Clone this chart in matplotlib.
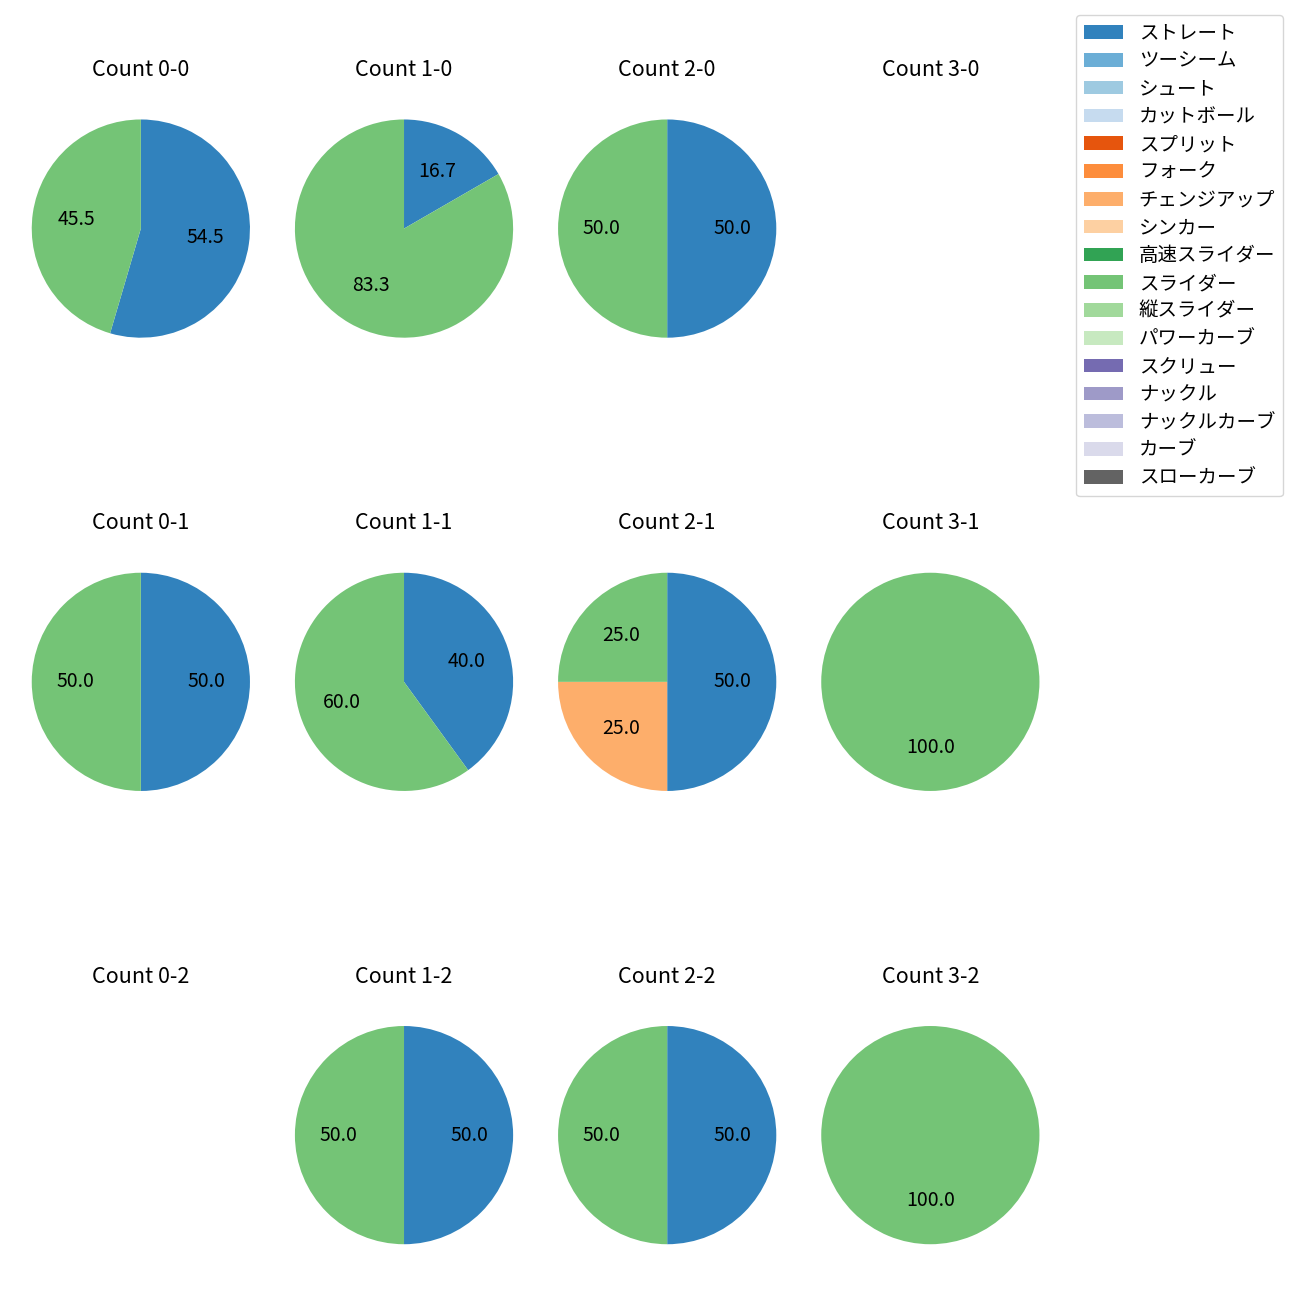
import matplotlib
matplotlib.use("Agg")
import matplotlib.pyplot as plt
from matplotlib.patches import Patch

plt.rcParams['font.family'] = ['Noto Sans CJK JP', 'DejaVu Sans']

pitch_types = ["ストレート", "ツーシーム", "シュート", "カットボール", "スプリット", "フォーク",
               "チェンジアップ", "シンカー", "高速スライダー", "スライダー", "縦スライダー",
               "パワーカーブ", "スクリュー", "ナックル", "ナックルカーブ", "カーブ", "スローカーブ"]
colors = ["#3182bd", "#6baed6", "#9ecae1", "#c6dbef", "#e6550d", "#fd8d3c", "#fdae6b",
          "#fdd0a2", "#31a354", "#74c476", "#a1d99b", "#c7e9c0", "#756bb1", "#9e9ac8",
          "#bcbddc", "#dadaeb", "#636363"]

balls = [0, 1, 2, 3]
strikes = [0, 1, 2]

# counts per pitch type (only non-zero entries), keyed by "balls-strikes"
count_0_0 = {"ストレート": 6, "スライダー": 5}
count_1_0 = {"ストレート": 1, "スライダー": 5}
count_2_0 = {"ストレート": 1, "スライダー": 1}
count_3_0 = {}
count_0_1 = {"ストレート": 1, "スライダー": 1}
count_1_1 = {"ストレート": 2, "スライダー": 3}
count_2_1 = {"ストレート": 2, "チェンジアップ": 1, "スライダー": 1}
count_3_1 = {"スライダー": 1}
count_0_2 = {}
count_1_2 = {"ストレート": 1, "スライダー": 1}
count_2_2 = {"ストレート": 1, "スライダー": 1}
count_3_2 = {"スライダー": 1}

data = {
    (0, 0): count_0_0, (1, 0): count_1_0, (2, 0): count_2_0, (3, 0): count_3_0,
    (0, 1): count_0_1, (1, 1): count_1_1, (2, 1): count_2_1, (3, 1): count_3_1,
    (0, 2): count_0_2, (1, 2): count_1_2, (2, 2): count_2_2, (3, 2): count_3_2,
}

fig, axes = plt.subplots(3, 4, figsize=(13, 13), dpi=100)
fig.subplots_adjust(left=0.024, right=0.80, top=0.935, bottom=0.016, wspace=0.2, hspace=0.573)

for s in strikes:
    for b in balls:
        ax = axes[s][b]
        d = data[(b, s)]
        vals = [d[p] for p in pitch_types if d.get(p, 0) > 0]
        cols = [colors[i] for i, p in enumerate(pitch_types) if d.get(p, 0) > 0]
        if vals:
            ax.pie(vals, colors=cols, startangle=90, counterclock=False,
                   autopct='%.1f', textprops={'fontsize': 14})
            ax.set_xlim(-1.005, 1.005)
            ax.set_ylim(-1.005, 1.005)
            ax.set_aspect('equal', adjustable='datalim')
        ax.axis('off')
        ax.set_title(f"Count {b}-{s}", fontsize=15.5)

handles = [Patch(facecolor=c, label=p) for p, c in zip(pitch_types, colors)]
fig.legend(handles=handles, loc='upper right', bbox_to_anchor=(0.9944, 0.9959),
           fontsize=14, labelspacing=0.35)

fig.savefig("out.png", dpi=100)
